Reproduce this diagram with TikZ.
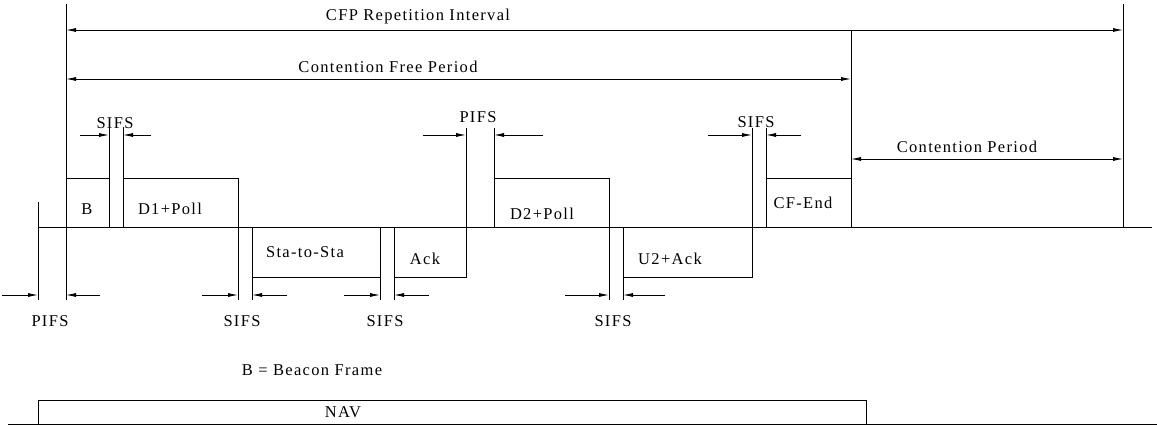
\documentclass[tikz,border=0pt]{standalone}
\usepackage{fontspec}
\setmainfont{Liberation Serif}[LetterSpace=8]
\usetikzlibrary{arrows.meta}
\begin{document}
\begin{tikzpicture}[x=1pt,y=-1pt,line width=0.8pt,
  lbl/.style={font=\fontsize{16.5}{19}\selectfont,inner sep=0pt,anchor=center},
  tip/.style={-{Latex[length=10pt,width=4pt]}},
  span/.style={{Latex[length=10pt,width=4pt]}-{Latex[length=10pt,width=4pt]}}]
\useasboundingbox (0,0) rectangle (1157,428);

% frames
\draw (66,178) rectangle (109,227);
\draw (123,178) rectangle (238,227);
\draw (252,227) rectangle (380,277);
\draw (394,227) rectangle (466,277);
\draw (494,178) rectangle (609,227);
\draw (623,227) rectangle (752,277);
\draw (766,178) rectangle (851,227);

% time line and markers
\draw (38,227) -- (1152,227);
\draw (38,202) -- (38,300);
\draw (66,4) -- (66,300);
\draw (109,127) -- (109,227);
\draw (123,127) -- (123,227);
\draw (238,227) -- (238,300);
\draw (252,227) -- (252,300);
\draw (380,227) -- (380,300);
\draw (394,227) -- (394,300);
\draw (466,128) -- (466,277);
\draw (494,128) -- (494,227);
\draw (609,227) -- (609,300);
\draw (623,227) -- (623,300);
\draw (752,128) -- (752,277);
\draw (766,128) -- (766,227);
\draw (851,30) -- (851,227);
\draw (1123,4) -- (1123,227);

% NAV
\draw (8,424) -- (1157,424);
\draw (38,424) |- (866,400) -- (866,424);

% coordinates for dimension arrows
\coordinate (r1a) at (66,30);   \coordinate (r1b) at (1123,30);
\coordinate (c1a) at (66,79);   \coordinate (c1b) at (851,79);
\coordinate (cpa) at (851,159); \coordinate (cpb) at (1123,159);

\coordinate (s1l0) at (80,135);  \coordinate (s1l1) at (109,135);
\coordinate (s1r0) at (151,135); \coordinate (s1r1) at (123,135);
\coordinate (p1l0) at (423,135); \coordinate (p1l1) at (466,135);
\coordinate (p1r0) at (543,135); \coordinate (p1r1) at (494,135);
\coordinate (s3l0) at (708,135); \coordinate (s3l1) at (752,135);
\coordinate (s3r0) at (801,135); \coordinate (s3r1) at (766,135);

\coordinate (pbl0) at (2,295);   \coordinate (pbl1) at (38,295);
\coordinate (pbr0) at (100,295); \coordinate (pbr1) at (66,295);
\coordinate (b1l0) at (202,295); \coordinate (b1l1) at (238,295);
\coordinate (b1r0) at (287,295); \coordinate (b1r1) at (252,295);
\coordinate (b2l0) at (344,295); \coordinate (b2l1) at (380,295);
\coordinate (b2r0) at (429,295); \coordinate (b2r1) at (394,295);
\coordinate (b3l0) at (565,295); \coordinate (b3l1) at (609,295);
\coordinate (b3r0) at (665,295); \coordinate (b3r1) at (623,295);

\draw[span] (r1a) -- (r1b);
\draw[span] (c1a) -- (c1b);
\draw[span] (cpa) -- (cpb);
\foreach \n in {s1,p1,s3,pb,b1,b2,b3}{
  \draw[tip] (\n l0) -- (\n l1);
  \draw[tip] (\n r0) -- (\n r1);
}

% labels
\node[lbl] (tcfp) at (418,17) {CFP Repetition Interval};
\node[lbl] (tcf)  at (388,67) {Contention Free Period};
\node[lbl] (tcp)  at (967,147) {Contention Period};
\node[lbl] (ts1)  at (115,123) {SIFS};
\node[lbl] (tp1)  at (478,117) {PIFS};
\node[lbl] (ts3)  at (756,122) {SIFS};
\node[lbl] (tpb)  at (50,321) {PIFS};
\node[lbl] (tb1)  at (242,321) {SIFS};
\node[lbl] (tb2)  at (385,321) {SIFS};
\node[lbl] (tb3)  at (613,321) {SIFS};
\node[lbl] (tB)   at (87,209) {B};
\node[lbl] (tD1)  at (170,209) {D1+Poll};
\node[lbl] (tSta) at (305,252) {Sta-to-Sta};
\node[lbl] (tAck) at (425,259) {Ack};
\node[lbl] (tD2)  at (542,214) {D2+Poll};
\node[lbl] (tU2)  at (670,259) {U2+Ack};
\node[lbl] (tCF)  at (803,203) {CF-End};
\node[lbl] (tBF)  at (312,370) {B = Beacon Frame};
\node[lbl] (tNAV) at (343,412) {NAV};
\end{tikzpicture}
\end{document}
